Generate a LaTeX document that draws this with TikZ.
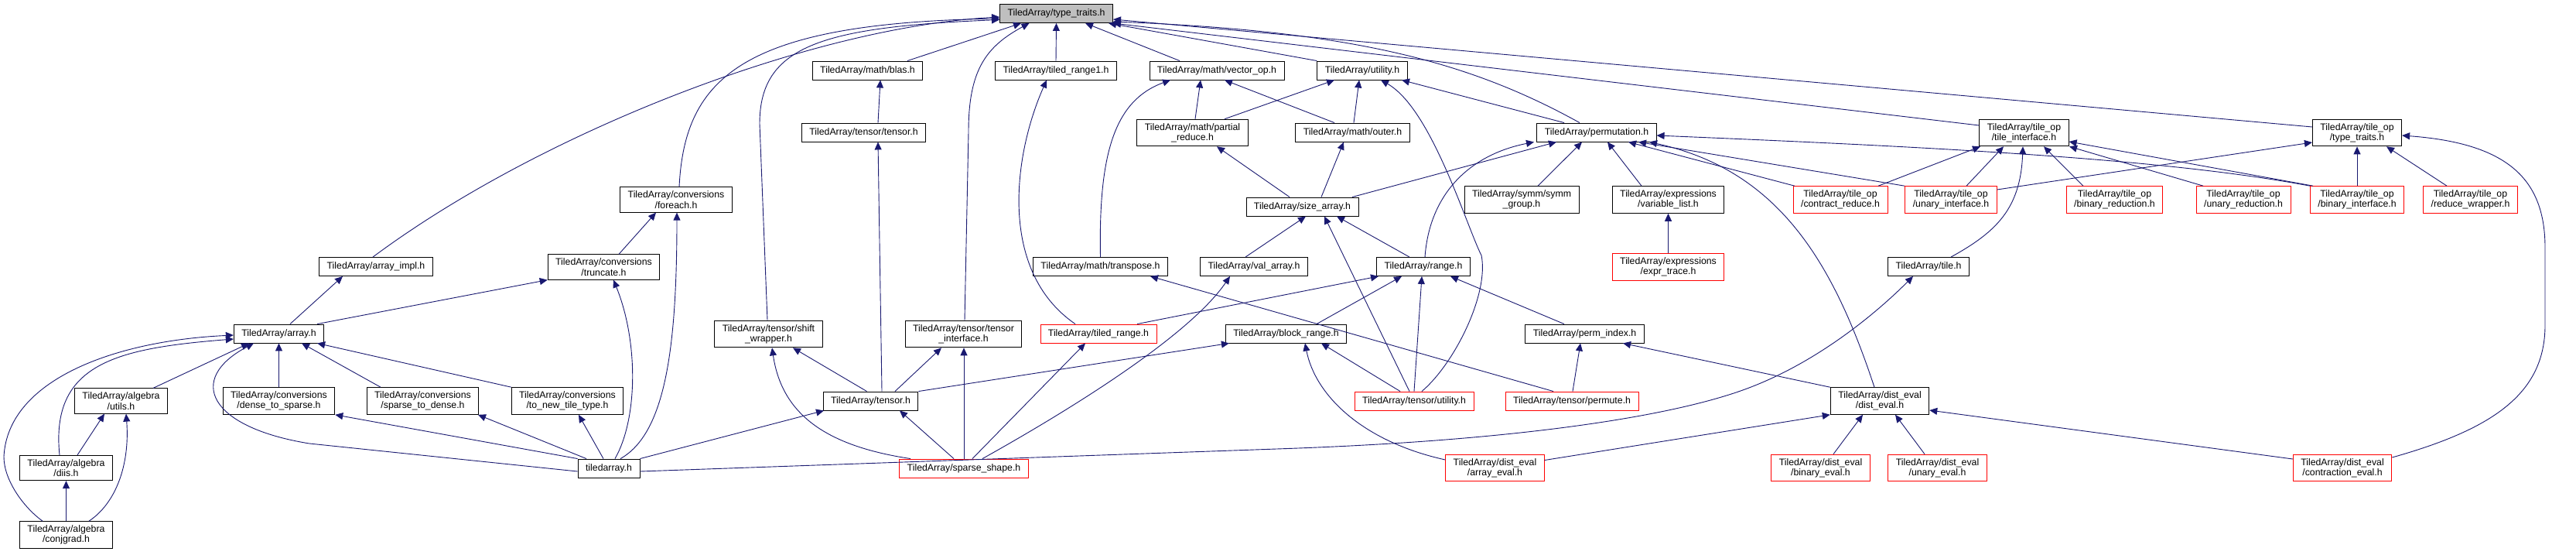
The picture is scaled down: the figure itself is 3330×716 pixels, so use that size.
\documentclass[tikz,border=0pt]{standalone}
\usepackage{fontspec}
\usepackage{tikz}
\usetikzlibrary{arrows.meta}
\newfontfamily\labelsans{Liberation Sans}
\definecolor{edgeblue}{RGB}{25,25,112}
\definecolor{rootgray}{RGB}{191,191,191}
\tikzset{
  file/.style={rectangle, draw=black, fill=white, line width=0.9pt, align=center,
    font={\labelsans\fontsize{12.3pt}{13.3pt}\selectfont},
    inner xsep=10pt, inner ysep=5pt, minimum height=24pt},
  missing/.style={file, draw=red},
  root/.style={file, fill=rootgray},
  inc/.style={{Triangle[length=10pt, width=9pt]}-, draw=edgeblue, line width=0.9pt},
}
\begin{document}
\begin{tikzpicture}[x=1pt, y=-1pt]
  \useasboundingbox (0,0) rectangle (3330,716);

  % root
  \node[root] (tt) at (1365.5,17.5) {TiledArray/type\_traits.h};

  % row 1
  \node[file] (blas) at (1121.5,91) {TiledArray/math/blas.h};
  \node[file] (tr1) at (1365,91) {TiledArray/tiled\_range1.h};
  \node[file] (vop) at (1573,91) {TiledArray/math/vector\_op.h};
  \node[file] (util) at (1761,91) {TiledArray/utility.h};

  % row 2
  \node[file] (ttens) at (1116.5,171) {TiledArray/tensor/tensor.h};
  \node[file] (pred) at (1541.5,171.5) {TiledArray/math/partial\\\_reduce.h};
  \node[file] (outer) at (1748.5,171) {TiledArray/math/outer.h};
  \node[file] (perm) at (2064,171) {TiledArray/permutation.h};
  \node[file] (tilif) at (2616.5,171.5) {TiledArray/tile\_op\\/tile\_interface.h};
  \node[file] (optt) at (3047,171.5) {TiledArray/tile\_op\\/type\_traits.h};

  % row 3
  \node[file] (fe) at (874,258) {TiledArray/conversions\\/foreach.h};
  \node[file] (sza) at (1683.5,267) {TiledArray/size\_array.h};
  \node[file] (symm) at (1967,258) {TiledArray/symm/symm\\\_group.h};
  \node[file] (vlist) at (2156.5,258) {TiledArray/expressions\\/variable\_list.h};
  \node[missing] (creduce) at (2379,258) {TiledArray/tile\_op\\/contract\_reduce.h};
  \node[missing] (uif) at (2522,258) {TiledArray/tile\_op\\/unary\_interface.h};
  \node[missing] (bred) at (2733.5,258) {TiledArray/tile\_op\\/binary\_reduction.h};
  \node[missing] (ured) at (2900,258) {TiledArray/tile\_op\\/unary\_reduction.h};
  \node[missing] (bif) at (3047,258) {TiledArray/tile\_op\\/binary\_interface.h};
  \node[missing] (rwrap) at (3193.5,258) {TiledArray/tile\_op\\/reduce\_wrapper.h};

  % row 4
  \node[file] (aimpl) at (486,344.5) {TiledArray/array\_impl.h};
  \node[file] (trunc) at (780.5,345) {TiledArray/conversions\\/truncate.h};
  \node[file] (trans) at (1422.5,344.5) {TiledArray/math/transpose.h};
  \node[file] (vala) at (1621,344.5) {TiledArray/val\_array.h};
  \node[file] (rng) at (1840,344.5) {TiledArray/range.h};
  \node[missing] (etr) at (2156.5,345) {TiledArray/expressions\\/expr\_trace.h};
  \node[file] (tile) at (2493,344.5) {TiledArray/tile.h};

  % row 5
  \node[file] (arr) at (360.5,431) {TiledArray/array.h};
  \node[file] (sw) at (993.5,431.5) {TiledArray/tensor/shift\\\_wrapper.h};
  \node[file] (tif) at (1245.5,431.5) {TiledArray/tensor/tensor\\\_interface.h};
  \node[missing] (trng) at (1420,431) {TiledArray/tiled\_range.h};
  \node[file] (brng) at (1662.5,431) {TiledArray/block\_range.h};
  \node[file] (pidx) at (2048.5,431) {TiledArray/perm\_index.h};

  % row 6
  \node[file] (autl) at (156.5,518) {TiledArray/algebra\\/utils.h};
  \node[file] (d2s) at (360.5,518) {TiledArray/conversions\\/dense\_to\_sparse.h};
  \node[file] (s2d) at (546.5,518) {TiledArray/conversions\\/sparse\_to\_dense.h};
  \node[file] (ntt) at (733.5,518) {TiledArray/conversions\\/to\_new\_tile\_type.h};
  \node[file] (tsr) at (1125.5,518) {TiledArray/tensor.h};
  \node[missing] (tutil) at (1828,518) {TiledArray/tensor/utility.h};
  \node[missing] (tperm) at (2032,518) {TiledArray/tensor/permute.h};
  \node[file] (deval) at (2430,518) {TiledArray/dist\_eval\\/dist\_eval.h};

  % row 7
  \node[file] (diis) at (85.5,604.5) {TiledArray/algebra\\/diis.h};
  \node[file] (tda) at (787,605) {tiledarray.h};
  \node[missing] (ssh) at (1246,605) {TiledArray/sparse\_shape.h};
  \node[missing] (aeval) at (1932.5,604.5) {TiledArray/dist\_eval\\/array\_eval.h};
  \node[missing] (beval) at (2353.5,604.5) {TiledArray/dist\_eval\\/binary\_eval.h};
  \node[missing] (ueval) at (2504.5,604.5) {TiledArray/dist\_eval\\/unary\_eval.h};
  \node[missing] (ceval) at (3028,604.5) {TiledArray/dist\_eval\\/contraction\_eval.h};

  % row 8
  \node[file] (cg) at (85.5,691) {TiledArray/algebra\\/conjgrad.h};

  % edges into type_traits
  \draw[inc] ([yshift=-4.5pt]tt.west) .. controls (1050,35) and (700,170) .. ([xshift=-4pt]aimpl.north);
  \draw[inc] ([yshift=-6.5pt]tt.west) .. controls (960,30) and (885,100) .. ([xshift=4pt]fe.north);
  \draw[inc] ([yshift=-8pt]tt.west) .. controls (1060,35) and (982,60) .. (982,160) -- ([xshift=-1.5pt]sw.north);
  \draw[inc] ([xshift=-45.5pt]tt.south) -- ([xshift=51.5pt]blas.north);
  \draw[inc] ([xshift=-35pt]tt.south) .. controls (1275,60) and (1252,90) .. (1252,170) -- ([xshift=1.5pt]tif.north);
  \draw[inc] (tt.south) -- (tr1.north);
  \draw[inc] ([xshift=37.5pt]tt.south) -- ([xshift=-48pt]vop.north);
  \draw[inc] ([xshift=67.5pt]tt.south) -- (util.north west);
  \draw[inc] ([yshift=-10.5pt]tt.east) .. controls (1750,40) and (1900,80) .. ([xshift=-22pt]perm.north);
  \draw[inc] ([yshift=-12.5pt]tt.east) -- ([yshift=9.5pt]tilif.west);
  \draw[inc] ([yshift=-7.5pt]tt.east) -- ([yshift=7.5pt]optt.west);

  % tensor/tensor, tiled_range1, vector_op
  \draw[inc] ([xshift=16.5pt]blas.south) -- ([xshift=18.5pt]ttens.north);
  \draw[inc] ([xshift=18.5pt]ttens.south) -- ([xshift=14.5pt]tsr.north);
  \draw[inc] ([xshift=-12pt]tr1.south) .. controls (1310,200) and (1290,350) .. ([xshift=-30pt]trng.north);
  \draw[inc] ([xshift=-60pt]vop.south) .. controls (1440,130) and (1420,200) .. (trans.north);
  \draw[inc] ([xshift=-21pt]vop.south) -- ([xshift=3.5pt]pred.north);
  \draw[inc] ([xshift=10pt]vop.south) -- ([xshift=-23.5pt]outer.north);

  % utility
  \draw[inc] ([xshift=-36pt]util.south) -- ([xshift=41.5pt]pred.north);
  \draw[inc] ([xshift=-4pt]util.south) -- ([xshift=1.5pt]outer.north);
  \draw[inc] ([xshift=24pt]util.south) .. controls (1850,140) and (1895,290) .. (1915,330)
    .. controls (1925,380) and (1880,470) .. ([xshift=10pt]tutil.north);
  \draw[inc] ([xshift=51pt]util.south) -- ([xshift=-42pt]perm.north);

  % partial_reduce, outer, size_array
  \draw[inc] ([xshift=31.5pt]pred.south) -- ([xshift=-16.5pt]sza.north);
  \draw[inc] ([xshift=-11.5pt]outer.south) -- ([xshift=24.5pt]sza.north);
  \draw[inc] ([xshift=4.5pt]sza.south) -- ([xshift=-11pt]vala.north);
  \draw[inc] ([xshift=28.5pt]sza.south) -- ([xshift=-6pt]tutil.north);
  \draw[inc] ([xshift=44.5pt]sza.south) -- ([xshift=-18pt]rng.north);

  % permutation
  \draw[inc] ([xshift=-52pt]perm.south) -- ([xshift=64.5pt]sza.north);
  \draw[inc] ([xshift=-81pt]perm.south) .. controls (1900,200) and (1848,250) .. ([xshift=2pt]rng.north);
  \draw[inc] ([xshift=-19pt]perm.south) -- ([xshift=21pt]symm.north);
  \draw[inc] ([xshift=14pt]perm.south) -- ([xshift=-34.5pt]vlist.north);
  \draw[inc] ([xshift=41pt]perm.south) -- ([xshift=-59pt]creduce.north);
  \draw[inc] ([xshift=54pt]perm.south) -- ([xshift=-60pt]uif.north);
  \draw[inc] ([xshift=68pt]perm.south) .. controls (2300,220) and (2370,340) .. ([xshift=-7pt]deval.north);
  \draw[inc] ([yshift=-4pt]perm.east) .. controls (2500,190) and (2800,205) .. (bif.north west);

  % tile_interface
  \draw[inc] ([xshift=-56.5pt]tilif.south) -- ([xshift=49pt]creduce.north);
  \draw[inc] ([xshift=-26.5pt]tilif.south) -- ([xshift=20pt]uif.north);
  \draw[inc] ([xshift=-1.5pt]tilif.south) .. controls (2612,270) and (2580,300) .. ([xshift=29pt]tile.north);
  \draw[inc] ([xshift=25.5pt]tilif.south) -- ([xshift=-40.5pt]bred.north);
  \draw[inc] ([xshift=58.5pt]tilif.south) -- ([xshift=-52pt]ured.north);
  \draw[inc] ([yshift=-11.5pt]tilif.east) -- ([xshift=4pt]bif.north west);

  % tile_op/type_traits
  \draw[inc] ([yshift=-12.5pt]optt.west) -- ([yshift=13pt]uif.east);
  \draw[inc] (optt.south) -- (bif.north);
  \draw[inc] ([xshift=38pt]optt.south) -- ([xshift=-30.5pt]rwrap.north);
  \draw[inc] ([yshift=-3.5pt]optt.east) .. controls (3240,185) and (3290,230) .. (3290,320) -- (3290,420)
    .. controls (3290,510) and (3220,555) .. ([yshift=13.5pt]ceval.east);

  % tensor.h
  \draw[inc] ([xshift=-60.5pt]tsr.south) -- (tda.north east);
  \draw[inc] ([xshift=37.5pt]tsr.south) -- ([xshift=-13pt]ssh.north);
  \draw[inc] ([xshift=31.5pt]sw.south) -- ([xshift=-5pt]tsr.north);
  \draw[inc] ([xshift=-28.5pt]tif.south) -- ([xshift=31.5pt]tsr.north);
  \draw[inc] ([xshift=5pt]brng.south west) -- (tsr.north east);

  % sparse_shape
  \draw[inc] ([xshift=0.5pt]tif.south) -- (ssh.north);
  \draw[inc] ([xshift=-17pt]trng.south) -- ([xshift=11pt]ssh.north);
  \draw[inc] ([xshift=-31pt]vala.south) .. controls (1540,430) and (1400,520) .. ([xshift=24pt]ssh.north);
  \draw[inc] ([xshift=4.5pt]sw.south) .. controls (1010,530) and (1060,575) .. ([xshift=-69pt]ssh.north);

  % tiledarray.h
  \draw[inc] ([xshift=-32.5pt]arr.south) .. controls (240,490) and (270,552) .. (400,573) -- ([yshift=-4pt]tda.west);
  \draw[inc] (d2s.south east) -- (tda.north west);
  \draw[inc] ([xshift=71.5pt]s2d.south) -- ([xshift=-29pt]tda.north);
  \draw[inc] ([xshift=14.5pt]ntt.south) -- ([xshift=-7pt]tda.north);
  \draw[inc] ([xshift=12.5pt]trunc.south) .. controls (825,440) and (825,540) .. ([xshift=8pt]tda.north);
  \draw[inc] ([xshift=1pt]fe.south) .. controls (875,450) and (860,560) .. ([xshift=15pt]tda.north);
  \draw[inc] ([xshift=-20pt]tile.south) .. controls (2430,400) and (2350,470) .. (2250,505)
    .. controls (2150,540) and (1950,570) .. (1650,580) -- ([yshift=-4pt]tda.east);

  % conversions
  \draw[inc] ([xshift=-26pt]fe.south) -- ([xshift=19.5pt]trunc.north);
  \draw[inc] (trunc.south west) -- ([xshift=-9pt]arr.north east);
  \draw[inc] ([xshift=-43pt]aimpl.south) -- ([xshift=14.5pt]arr.north);

  % array.h
  \draw[inc] ([yshift=-2pt]arr.west) .. controls (150,440) and (10,490) .. (5,590)
    .. controls (5,620) and (30,655) .. ([xshift=-30.5pt]cg.north);
  \draw[inc] ([yshift=-7pt]arr.west) .. controls (150,450) and (65,470) .. ([xshift=-8.5pt]diis.north);
  \draw[inc] ([xshift=-38.5pt]arr.south) -- ([xshift=41.5pt]autl.north);
  \draw[inc] (arr.south) -- (d2s.north);
  \draw[inc] ([xshift=29.5pt]arr.south) -- ([xshift=-54.5pt]s2d.north);
  \draw[inc] ([xshift=-9pt]arr.south east) -- (ntt.north west);

  % algebra
  \draw[inc] ([xshift=-21.5pt]autl.south) -- ([xshift=14.5pt]diis.north);
  \draw[inc] ([xshift=6.5pt]autl.south) .. controls (168,600) and (150,650) .. ([xshift=29.5pt]cg.north);
  \draw[inc] (diis.south) -- (cg.north);

  % range, block_range, perm_index
  \draw[inc] ([xshift=-58pt]rng.south) -- ([xshift=50pt]trng.north);
  \draw[inc] ([xshift=64.5pt]trans.south) -- ([xshift=-24pt]tperm.north);
  \draw[inc] ([xshift=-28pt]rng.south) -- ([xshift=39.5pt]brng.north);
  \draw[inc] ([xshift=45.5pt]brng.south) -- ([xshift=-18pt]tutil.north);
  \draw[inc] ([xshift=24.5pt]brng.south) .. controls (1700,510) and (1760,570) .. ([yshift=10.5pt]aeval.west);
  \draw[inc] ([xshift=-2pt]rng.south) -- (tutil.north);
  \draw[inc] ([xshift=35pt]rng.south) -- ([xshift=-26.5pt]pidx.north);
  \draw[inc] ([xshift=-5.5pt]pidx.south) -- ([xshift=1pt]tperm.north);
  \draw[inc] ([xshift=49.5pt]pidx.south) -- (deval.north west);

  % dist_eval
  \draw[inc] ([xshift=-22pt]deval.south) -- ([xshift=16.5pt]beval.north);
  \draw[inc] ([xshift=20pt]deval.south) -- ([xshift=-16.5pt]ueval.north);
  \draw[inc] (deval.south west) -- ([yshift=10pt]aeval.east);
  \draw[inc] ([yshift=-12pt]deval.east) -- ([yshift=11.5pt]ceval.west);
  \draw[inc] (vlist.south) -- (etr.north);
\end{tikzpicture}
\end{document}
